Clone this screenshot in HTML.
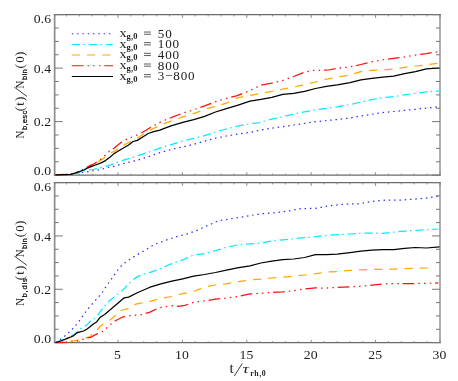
<!DOCTYPE html>
<html><head><meta charset="utf-8"><title>plot</title>
<style>
html,body{margin:0;padding:0;background:#fff;}
body{width:458px;height:381px;overflow:hidden;font-family:"Liberation Sans",sans-serif;}
svg{display:block;}
.tl{font-family:"Liberation Serif",serif;font-size:13.1px;fill:#1c1c1c;letter-spacing:0.1px;}
.ser{font-family:"Liberation Serif",serif;fill:#222;}
.sub{font-family:"Liberation Sans",sans-serif;fill:#111;stroke:#111;stroke-width:0.25px;}
</style></head><body>
<svg width="458" height="381" viewBox="0 0 458 381" style="will-change:transform">
<rect width="458" height="381" fill="#fff"/>
<path d="M54.650000000000006 14.05 V175.6" stroke="#8c8c8c" stroke-width="1.7" fill="none"/>
<path d="M440.0 14.05 V175.6" stroke="#9c9c9c" stroke-width="1.6" fill="none"/>
<path d="M53.900000000000006 14.65 H440.8" stroke="#6a6a6a" stroke-width="1.3" fill="none"/>
<path d="M53.900000000000006 175.1 H440.8" stroke="#6a6a6a" stroke-width="1.15" fill="none"/>
<path d="M66.48 175.1 v-1.4 M66.48 14.65 v1.8 M79.36 175.1 v-1.4 M79.36 14.65 v1.8 M92.24 175.1 v-1.4 M92.24 14.65 v1.8 M105.12 175.1 v-1.4 M105.12 14.65 v1.8 M118.00 175.1 v-2.8 M118.00 14.65 v3.3 M130.88 175.1 v-1.4 M130.88 14.65 v1.8 M143.76 175.1 v-1.4 M143.76 14.65 v1.8 M156.64 175.1 v-1.4 M156.64 14.65 v1.8 M169.52 175.1 v-1.4 M169.52 14.65 v1.8 M182.40 175.1 v-2.8 M182.40 14.65 v3.3 M195.28 175.1 v-1.4 M195.28 14.65 v1.8 M208.16 175.1 v-1.4 M208.16 14.65 v1.8 M221.04 175.1 v-1.4 M221.04 14.65 v1.8 M233.92 175.1 v-1.4 M233.92 14.65 v1.8 M246.80 175.1 v-2.8 M246.80 14.65 v3.3 M259.68 175.1 v-1.4 M259.68 14.65 v1.8 M272.56 175.1 v-1.4 M272.56 14.65 v1.8 M285.44 175.1 v-1.4 M285.44 14.65 v1.8 M298.32 175.1 v-1.4 M298.32 14.65 v1.8 M311.20 175.1 v-2.8 M311.20 14.65 v3.3 M324.08 175.1 v-1.4 M324.08 14.65 v1.8 M336.96 175.1 v-1.4 M336.96 14.65 v1.8 M349.84 175.1 v-1.4 M349.84 14.65 v1.8 M362.72 175.1 v-1.4 M362.72 14.65 v1.8 M375.60 175.1 v-2.8 M375.60 14.65 v3.3 M388.48 175.1 v-1.4 M388.48 14.65 v1.8 M401.36 175.1 v-1.4 M401.36 14.65 v1.8 M414.24 175.1 v-1.4 M414.24 14.65 v1.8 M427.12 175.1 v-1.4 M427.12 14.65 v1.8 M440.00 175.1 v-2.8 M440.00 14.65 v3.3" stroke="#888" stroke-width="1" fill="none"/>
<path d="M54.7 175.10 h8.0 M440.0 175.10 h-8.0 M54.7 161.73 h4.0 M440.0 161.73 h-4.0 M54.7 148.36 h4.0 M440.0 148.36 h-4.0 M54.7 134.99 h4.0 M440.0 134.99 h-4.0 M54.7 121.62 h8.0 M440.0 121.62 h-8.0 M54.7 108.25 h4.0 M440.0 108.25 h-4.0 M54.7 94.88 h4.0 M440.0 94.88 h-4.0 M54.7 81.50 h4.0 M440.0 81.50 h-4.0 M54.7 68.13 h8.0 M440.0 68.13 h-8.0 M54.7 54.76 h4.0 M440.0 54.76 h-4.0 M54.7 41.39 h4.0 M440.0 41.39 h-4.0 M54.7 28.02 h4.0 M440.0 28.02 h-4.0 M54.7 14.65 h8.0 M440.0 14.65 h-8.0" stroke="#777" stroke-width="1" fill="none"/>
<path d="M54.650000000000006 182.0 V343.1" stroke="#8c8c8c" stroke-width="1.7" fill="none"/>
<path d="M440.0 182.0 V343.1" stroke="#9c9c9c" stroke-width="1.6" fill="none"/>
<path d="M53.900000000000006 182.6 H440.8" stroke="#6a6a6a" stroke-width="1.3" fill="none"/>
<path d="M53.900000000000006 342.6 H440.8" stroke="#6a6a6a" stroke-width="1.15" fill="none"/>
<path d="M66.48 342.6 v-1.4 M66.48 182.6 v1.8 M79.36 342.6 v-1.4 M79.36 182.6 v1.8 M92.24 342.6 v-1.4 M92.24 182.6 v1.8 M105.12 342.6 v-1.4 M105.12 182.6 v1.8 M118.00 342.6 v-2.8 M118.00 182.6 v3.3 M130.88 342.6 v-1.4 M130.88 182.6 v1.8 M143.76 342.6 v-1.4 M143.76 182.6 v1.8 M156.64 342.6 v-1.4 M156.64 182.6 v1.8 M169.52 342.6 v-1.4 M169.52 182.6 v1.8 M182.40 342.6 v-2.8 M182.40 182.6 v3.3 M195.28 342.6 v-1.4 M195.28 182.6 v1.8 M208.16 342.6 v-1.4 M208.16 182.6 v1.8 M221.04 342.6 v-1.4 M221.04 182.6 v1.8 M233.92 342.6 v-1.4 M233.92 182.6 v1.8 M246.80 342.6 v-2.8 M246.80 182.6 v3.3 M259.68 342.6 v-1.4 M259.68 182.6 v1.8 M272.56 342.6 v-1.4 M272.56 182.6 v1.8 M285.44 342.6 v-1.4 M285.44 182.6 v1.8 M298.32 342.6 v-1.4 M298.32 182.6 v1.8 M311.20 342.6 v-2.8 M311.20 182.6 v3.3 M324.08 342.6 v-1.4 M324.08 182.6 v1.8 M336.96 342.6 v-1.4 M336.96 182.6 v1.8 M349.84 342.6 v-1.4 M349.84 182.6 v1.8 M362.72 342.6 v-1.4 M362.72 182.6 v1.8 M375.60 342.6 v-2.8 M375.60 182.6 v3.3 M388.48 342.6 v-1.4 M388.48 182.6 v1.8 M401.36 342.6 v-1.4 M401.36 182.6 v1.8 M414.24 342.6 v-1.4 M414.24 182.6 v1.8 M427.12 342.6 v-1.4 M427.12 182.6 v1.8 M440.00 342.6 v-2.8 M440.00 182.6 v3.3" stroke="#888" stroke-width="1" fill="none"/>
<path d="M54.7 342.60 h8.0 M440.0 342.60 h-8.0 M54.7 329.27 h4.0 M440.0 329.27 h-4.0 M54.7 315.93 h4.0 M440.0 315.93 h-4.0 M54.7 302.60 h4.0 M440.0 302.60 h-4.0 M54.7 289.27 h8.0 M440.0 289.27 h-8.0 M54.7 275.93 h4.0 M440.0 275.93 h-4.0 M54.7 262.60 h4.0 M440.0 262.60 h-4.0 M54.7 249.27 h4.0 M440.0 249.27 h-4.0 M54.7 235.93 h8.0 M440.0 235.93 h-8.0 M54.7 222.60 h4.0 M440.0 222.60 h-4.0 M54.7 209.27 h4.0 M440.0 209.27 h-4.0 M54.7 195.93 h4.0 M440.0 195.93 h-4.0 M54.7 182.60 h8.0 M440.0 182.60 h-8.0" stroke="#777" stroke-width="1" fill="none"/>
<g>
<path d="M55.5 174.8 L72.0 174.4 L82.0 172.4 L86.9 171.8 L91.8 171.0 L97.3 170.3 L102.2 169.2 L107.1 167.5 L112.6 166.7 L115.5 165.7 L126.4 162.9 L137.3 160.3 L150.0 156.2 L160.9 152.4 L171.8 149.3 L182.8 146.9 L193.7 144.3 L204.6 141.1 L215.5 138.2 L226.4 136.0 L237.3 134.1 L250.0 132.4 L260.9 130.0 L271.8 128.2 L282.8 126.7 L293.7 125.0 L304.6 123.4 L315.5 121.7 L326.4 120.6 L337.3 119.5 L350.0 118.0 L360.9 115.9 L371.8 114.3 L382.8 112.6 L393.7 111.5 L404.6 110.4 L415.5 109.3 L426.4 108.2 L439.5 106.5" fill="none" stroke="#3030f8" stroke-width="1.25" stroke-dasharray="1.5 3.8" stroke-linejoin="round"/>
<path d="M55.5 174.8 L69.7 174.4 L78.4 172.8 L83.7 171.0 L89.1 169.9 L92.4 169.5 L96.8 168.7 L104.4 166.7 L110.9 164.8 L113.3 163.8 L122.1 160.7 L130.8 157.9 L139.5 155.2 L150.0 151.7 L160.9 147.6 L171.8 144.3 L182.8 141.1 L193.7 138.4 L204.6 135.6 L215.5 131.9 L226.4 129.0 L237.3 126.2 L250.0 123.7 L258.7 122.8 L271.8 119.1 L282.8 116.9 L293.7 114.0 L304.6 111.9 L315.5 109.7 L326.4 108.4 L337.3 106.8 L350.0 104.5 L360.9 102.1 L371.8 99.7 L382.8 97.6 L393.7 96.7 L404.6 94.8 L415.5 93.3 L426.4 91.8 L439.5 90.9" fill="none" stroke="#00ecff" stroke-width="1.25" stroke-dasharray="8.2 3.4 1.5 3.9" stroke-linejoin="round"/>
<path d="M55.5 174.8 L69.7 174.2 L75.0 173.1 L78.4 172.0 L82.5 170.2 L87.1 168.1 L92.0 165.4 L96.8 162.7 L100.0 160.5 L102.2 159.4 L106.0 156.5 L109.9 153.4 L114.0 151.4 L122.1 145.9 L130.8 141.5 L139.5 136.7 L150.0 130.1 L160.9 125.1 L171.8 120.7 L182.8 116.8 L193.7 113.7 L204.6 109.3 L215.5 106.5 L226.4 103.2 L237.3 97.8 L250.0 95.4 L260.9 93.3 L271.8 91.4 L282.8 89.2 L293.7 87.0 L304.6 84.8 L315.5 82.0 L326.4 79.1 L337.3 77.2 L350.0 75.0 L360.9 71.7 L371.8 70.4 L382.8 70.0 L393.7 68.9 L404.6 67.3 L415.5 66.0 L426.4 64.9 L437.3 63.4" fill="none" stroke="#ffa800" stroke-width="1.25" stroke-dasharray="8.2 7" stroke-linejoin="round"/>
<path d="M55.5 174.8 L69.7 174.2 L75.0 173.0 L78.4 171.8 L82.0 170.0 L85.8 168.1 L89.1 165.9 L93.5 164.2 L96.8 162.1 L102.2 158.2 L106.0 154.5 L109.9 150.7 L114.0 148.2 L122.1 141.5 L129.3 138.0 L135.4 135.8 L141.6 132.7 L146.0 130.2 L150.0 127.7 L160.9 121.8 L171.8 117.4 L182.8 113.1 L193.7 109.8 L204.6 105.9 L215.5 101.7 L226.4 98.4 L237.3 95.6 L250.0 90.5 L260.9 85.2 L271.8 83.1 L282.8 80.4 L293.7 76.5 L304.6 72.1 L313.3 70.4 L328.6 70.0 L337.3 68.4 L350.0 66.9 L360.9 64.5 L371.8 61.9 L382.8 59.7 L393.7 58.4 L404.6 56.9 L415.5 55.1 L426.4 53.6 L439.5 51.4" fill="none" stroke="#ff1010" stroke-width="1.25" stroke-dasharray="11.6 4.1 1.5 4.1 1.5 4.3 1.5 3.9" stroke-linejoin="round"/>
<path d="M55.5 174.8 L64.0 174.6 L70.6 174.3 L74.9 173.2 L79.3 171.6 L83.7 170.0 L88.0 167.8 L92.4 166.1 L96.8 164.5 L101.1 162.9 L105.5 160.6 L109.9 157.2 L114.0 153.6 L115.5 152.7 L122.1 148.7 L128.6 145.0 L133.0 141.5 L137.3 140.4 L143.9 136.2 L148.2 133.5 L153.7 131.7 L160.0 130.2 L165.0 128.1 L171.8 125.7 L182.8 122.4 L193.7 119.6 L204.6 116.3 L215.5 112.0 L226.4 108.7 L237.3 105.4 L250.0 101.2 L260.9 99.4 L271.8 97.3 L282.8 94.4 L293.7 93.3 L304.6 91.4 L315.5 88.5 L326.4 86.3 L337.3 84.8 L350.0 82.6 L360.9 79.8 L371.8 78.3 L382.8 77.2 L393.7 76.1 L404.6 73.7 L415.5 71.7 L426.4 68.9 L439.5 68.0" fill="none" stroke="#000000" stroke-width="1.25" stroke-linejoin="round"/>
</g><g>
<path d="M55.5 342.5 L59.5 340.2 L63.3 337.2 L66.9 334.5 L70.2 331.2 L73.1 328.3 L76.2 324.9 L78.9 321.4 L81.6 317.6 L84.3 313.7 L87.1 310.2 L89.8 306.6 L93.5 302.5 L97.3 298.3 L101.1 294.1 L103.3 290.8 L105.5 287.3 L107.9 284.0 L110.4 280.5 L112.6 277.3 L115.1 273.7 L117.5 270.4 L120.2 267.1 L122.9 264.2 L126.0 262.1 L132.8 257.4 L143.7 250.9 L154.6 244.3 L165.5 240.4 L176.4 236.7 L187.3 233.9 L198.3 229.9 L204.2 227.0 L218.4 220.8 L232.6 218.5 L246.8 216.2 L261.0 213.7 L275.2 212.8 L289.3 210.9 L300.7 208.6 L315.0 208.4 L329.2 205.7 L343.4 204.3 L357.6 203.8 L371.8 201.5 L386.0 200.1 L400.2 200.1 L414.3 199.2 L428.5 197.8 L439.3 195.8" fill="none" stroke="#3030f8" stroke-width="1.25" stroke-dasharray="1.5 3.8" stroke-linejoin="round"/>
<path d="M55.5 342.5 L60.6 340.5 L64.9 338.8 L70.4 336.7 L74.7 333.9 L76.9 332.3 L80.2 329.0 L82.4 327.4 L86.8 325.2 L90.0 321.4 L93.3 319.2 L96.6 317.0 L99.9 312.1 L102.0 309.4 L104.6 305.9 L108.7 301.5 L114.2 297.1 L117.5 294.4 L125.1 287.9 L127.3 284.6 L131.7 281.3 L133.8 279.1 L138.2 276.4 L143.7 274.0 L148.0 272.9 L150.0 272.4 L158.7 269.5 L171.8 263.6 L182.8 259.9 L193.7 255.0 L204.6 253.7 L215.5 250.7 L226.4 247.2 L237.3 245.0 L250.0 243.9 L260.9 243.1 L271.8 240.9 L282.8 239.8 L293.7 238.7 L304.6 237.6 L315.5 236.6 L326.4 235.5 L337.3 234.6 L350.0 234.0 L360.9 233.3 L371.8 233.1 L382.8 233.3 L393.7 232.2 L404.6 231.1 L415.5 230.5 L426.4 229.8 L438.4 229.0" fill="none" stroke="#00ecff" stroke-width="1.25" stroke-dasharray="8.2 3.4 1.5 3.9" stroke-linejoin="round"/>
<path d="M55.5 342.7 L70.4 341.0 L75.8 340.6 L82.4 338.9 L85.7 337.9 L90.0 336.9 L93.3 332.4 L96.6 330.2 L100.9 325.8 L104.6 323.3 L110.6 319.5 L114.4 316.5 L118.7 311.3 L123.0 310.0 L127.5 308.9 L131.8 305.8 L136.8 303.9 L143.3 302.6 L150.0 301.3 L160.9 298.5 L171.8 296.5 L182.8 293.7 L193.7 291.5 L204.6 287.1 L215.5 285.0 L226.4 283.9 L237.3 281.7 L250.0 280.0 L260.9 279.1 L271.8 278.0 L282.8 277.2 L293.7 276.1 L304.6 275.0 L315.5 273.7 L326.4 272.1 L337.3 271.5 L350.0 270.4 L360.9 269.8 L371.8 269.3 L382.8 269.3 L393.7 269.1 L404.6 268.7 L415.5 268.3 L426.4 268.0 L435.2 267.2" fill="none" stroke="#ffa800" stroke-width="1.25" stroke-dasharray="8.2 7" stroke-linejoin="round"/>
<path d="M55.5 342.7 L71.8 342.1 L79.7 340.6 L83.5 339.2 L86.8 338.1 L91.1 337.2 L94.4 335.1 L97.7 333.7 L100.9 332.4 L104.0 330.7 L109.0 325.5 L115.5 320.7 L122.1 317.2 L130.8 315.7 L141.7 314.6 L150.0 312.1 L158.7 307.9 L171.8 305.7 L178.4 306.4 L184.9 305.3 L193.7 302.4 L204.6 300.9 L215.5 299.2 L226.4 298.1 L237.3 296.5 L250.0 293.9 L260.9 293.3 L271.8 292.4 L282.8 291.8 L293.7 290.7 L304.6 289.0 L315.5 287.9 L326.4 288.1 L337.3 287.4 L350.0 286.9 L360.9 286.2 L371.8 285.1 L382.8 284.0 L393.7 283.5 L404.6 283.5 L415.5 283.5 L426.4 283.3 L438.4 282.9" fill="none" stroke="#ff1010" stroke-width="1.25" stroke-dasharray="11.6 4.1 1.5 4.1 1.5 4.3 1.5 3.9" stroke-linejoin="round"/>
<path d="M55.5 342.5 L60.6 341.0 L64.9 339.4 L70.4 337.2 L73.7 335.6 L76.4 333.2 L79.1 332.1 L83.5 331.0 L86.8 329.2 L90.0 326.8 L93.3 324.1 L96.6 321.9 L99.9 317.6 L104.6 314.4 L115.5 305.2 L124.2 297.8 L128.6 297.1 L137.3 292.8 L150.0 287.2 L160.9 283.9 L171.8 281.2 L182.8 278.8 L193.7 276.2 L204.6 274.5 L215.5 272.5 L226.4 270.1 L237.3 267.9 L250.0 265.8 L260.9 263.0 L271.8 261.2 L282.8 259.7 L293.7 259.0 L304.6 257.5 L315.5 254.7 L326.4 254.7 L337.3 254.2 L350.0 252.6 L360.9 251.2 L371.8 250.1 L382.8 249.7 L393.7 249.7 L404.6 248.4 L415.5 247.5 L426.4 248.0 L439.5 246.9" fill="none" stroke="#000000" stroke-width="1.25" stroke-linejoin="round"/>
</g>
<path d="M71.8 33.80 H113" stroke="#3030f8" stroke-width="1.02" stroke-dasharray="1.5 3.8" fill="none"/>
<text class="ser" transform="translate(119.4 37.00) scale(1.1 1)" font-size="12.8">x</text>
<text class="ser" transform="translate(126.5 38.90) scale(1.12 1)" font-size="7.6" font-weight="bold" letter-spacing="0.2">g,0</text>
<path d="M144 32.05 h6.9 M144 34.25 h6.9" stroke="#4a4a4a" stroke-width="0.9" fill="none"/>
<text class="ser" x="157.8" y="37.5" font-size="13.1" letter-spacing="0.8">50</text>
<path d="M71.8 44.45 H113" stroke="#00ecff" stroke-width="1.02" stroke-dasharray="8.2 3.4 1.5 3.9" fill="none"/>
<text class="ser" transform="translate(119.4 47.65) scale(1.1 1)" font-size="12.8">x</text>
<text class="ser" transform="translate(126.5 49.55) scale(1.12 1)" font-size="7.6" font-weight="bold" letter-spacing="0.2">g,0</text>
<path d="M144 42.70 h6.9 M144 44.90 h6.9" stroke="#4a4a4a" stroke-width="0.9" fill="none"/>
<text class="ser" x="157.8" y="48.1" font-size="13.1" letter-spacing="0.8">100</text>
<path d="M71.8 55.10 H113" stroke="#ffa800" stroke-width="1.02" stroke-dasharray="8.2 7" fill="none"/>
<text class="ser" transform="translate(119.4 58.30) scale(1.1 1)" font-size="12.8">x</text>
<text class="ser" transform="translate(126.5 60.20) scale(1.12 1)" font-size="7.6" font-weight="bold" letter-spacing="0.2">g,0</text>
<path d="M144 53.35 h6.9 M144 55.55 h6.9" stroke="#4a4a4a" stroke-width="0.9" fill="none"/>
<text class="ser" x="157.8" y="58.8" font-size="13.1" letter-spacing="0.8">400</text>
<path d="M71.8 65.75 H113" stroke="#ff1010" stroke-width="1.02" stroke-dasharray="11.6 4.1 1.5 4.1 1.5 4.3 1.5 3.9" fill="none"/>
<text class="ser" transform="translate(119.4 68.95) scale(1.1 1)" font-size="12.8">x</text>
<text class="ser" transform="translate(126.5 70.85) scale(1.12 1)" font-size="7.6" font-weight="bold" letter-spacing="0.2">g,0</text>
<path d="M144 64.00 h6.9 M144 66.20 h6.9" stroke="#4a4a4a" stroke-width="0.9" fill="none"/>
<text class="ser" x="157.8" y="69.5" font-size="13.1" letter-spacing="0.8">800</text>
<path d="M71.8 76.40 H113" stroke="#000000" stroke-width="1.02" fill="none"/>
<text class="ser" transform="translate(119.4 79.60) scale(1.1 1)" font-size="12.8">x</text>
<text class="ser" transform="translate(126.5 81.50) scale(1.12 1)" font-size="7.6" font-weight="bold" letter-spacing="0.2">g,0</text>
<path d="M144 74.65 h6.9 M144 76.85 h6.9" stroke="#4a4a4a" stroke-width="0.9" fill="none"/>
<text class="ser" x="157.8" y="80.1" font-size="13.1" letter-spacing="0.8">3−800</text>
<text class="tl" transform="translate(51.2 175.2) scale(1.05 1)" text-anchor="end">0.0</text>
<text class="tl" transform="translate(51.2 126.2) scale(1.05 1)" text-anchor="end">0.2</text>
<text class="tl" transform="translate(51.2 72.7) scale(1.05 1)" text-anchor="end">0.4</text>
<text class="tl" transform="translate(51.2 22.8) scale(1.05 1)" text-anchor="end">0.6</text>
<text class="tl" transform="translate(51.2 342.7) scale(1.05 1)" text-anchor="end">0.0</text>
<text class="tl" transform="translate(51.2 293.9) scale(1.05 1)" text-anchor="end">0.2</text>
<text class="tl" transform="translate(51.2 240.5) scale(1.05 1)" text-anchor="end">0.4</text>
<text class="tl" transform="translate(51.2 190.7) scale(1.05 1)" text-anchor="end">0.6</text>
<text class="tl" transform="translate(117.6 359.2) scale(1.05 1)" text-anchor="middle">5</text>
<text class="tl" transform="translate(182.0 359.2) scale(1.05 1)" text-anchor="middle">10</text>
<text class="tl" transform="translate(246.4 359.2) scale(1.05 1)" text-anchor="middle">15</text>
<text class="tl" transform="translate(310.8 359.2) scale(1.05 1)" text-anchor="middle">20</text>
<text class="tl" transform="translate(375.2 359.2) scale(1.05 1)" text-anchor="middle">25</text>
<text class="tl" transform="translate(439.6 359.2) scale(1.05 1)" text-anchor="middle">30</text>
<text class="ser" x="229.4" y="373" font-size="15">t</text>
<path d="M234.3 376.1 L242.3 363.4" stroke="#333" stroke-width="0.95" fill="none"/>
<text class="ser" transform="translate(242.4 373) scale(1.35 1)" font-size="13" font-style="italic">τ</text>
<text class="ser" x="250.2" y="376.4" font-size="7.8" font-weight="bold" letter-spacing="0.6">rh,0</text>
<g transform="translate(23.7 138.3) rotate(-90)"><text class="ser" transform="translate(-0.2 0) scale(0.9 1)" font-size="12">N</text><text class="sub" transform="translate(8.2 3.1) scale(1.0 1)" font-size="7.7" letter-spacing="0.25">b,esc</text><text class="ser" transform="translate(27.0 -0.2) scale(1.0 1)" font-size="13">(</text><text class="ser" transform="translate(32.5 0) scale(1.0 1)" font-size="12.5">t</text><text class="ser" transform="translate(37.2 -0.2) scale(1.0 1)" font-size="13">)</text><path d="M41.9 3.2 L51.2 -9.4" stroke="#333" stroke-width="0.95" fill="none"/><text class="ser" transform="translate(49.9 0) scale(0.9 1)" font-size="12">N</text><text class="sub" transform="translate(58.3 3.1) scale(1.0 1)" font-size="7.7" letter-spacing="0.25">bin</text><text class="ser" transform="translate(69.9 -0.2) scale(1.0 1)" font-size="13">(</text><text class="ser" transform="translate(75.5 0) scale(1.12 1)" font-size="11.6">0</text><text class="ser" transform="translate(82.2 -0.2) scale(1.0 1)" font-size="13">)</text></g>
<g transform="translate(23.7 305.6) rotate(-90)"><text class="ser" transform="translate(-0.2 0) scale(0.9 1)" font-size="12">N</text><text class="sub" transform="translate(8.2 3.1) scale(1.0 1)" font-size="7.7" letter-spacing="0.72">b,dis</text><text class="ser" transform="translate(25.4 -0.2) scale(1.0 1)" font-size="13">(</text><text class="ser" transform="translate(30.9 0) scale(1.0 1)" font-size="12.5">t</text><text class="ser" transform="translate(35.6 -0.2) scale(1.0 1)" font-size="13">)</text><path d="M40.3 3.2 L49.6 -9.4" stroke="#333" stroke-width="0.95" fill="none"/><text class="ser" transform="translate(48.3 0) scale(0.9 1)" font-size="12">N</text><text class="sub" transform="translate(56.699999999999996 3.1) scale(1.0 1)" font-size="7.7" letter-spacing="0.25">bin</text><text class="ser" transform="translate(68.30000000000001 -0.2) scale(1.0 1)" font-size="13">(</text><text class="ser" transform="translate(73.9 0) scale(1.12 1)" font-size="11.6">0</text><text class="ser" transform="translate(80.60000000000001 -0.2) scale(1.0 1)" font-size="13">)</text></g>
</svg></body></html>
